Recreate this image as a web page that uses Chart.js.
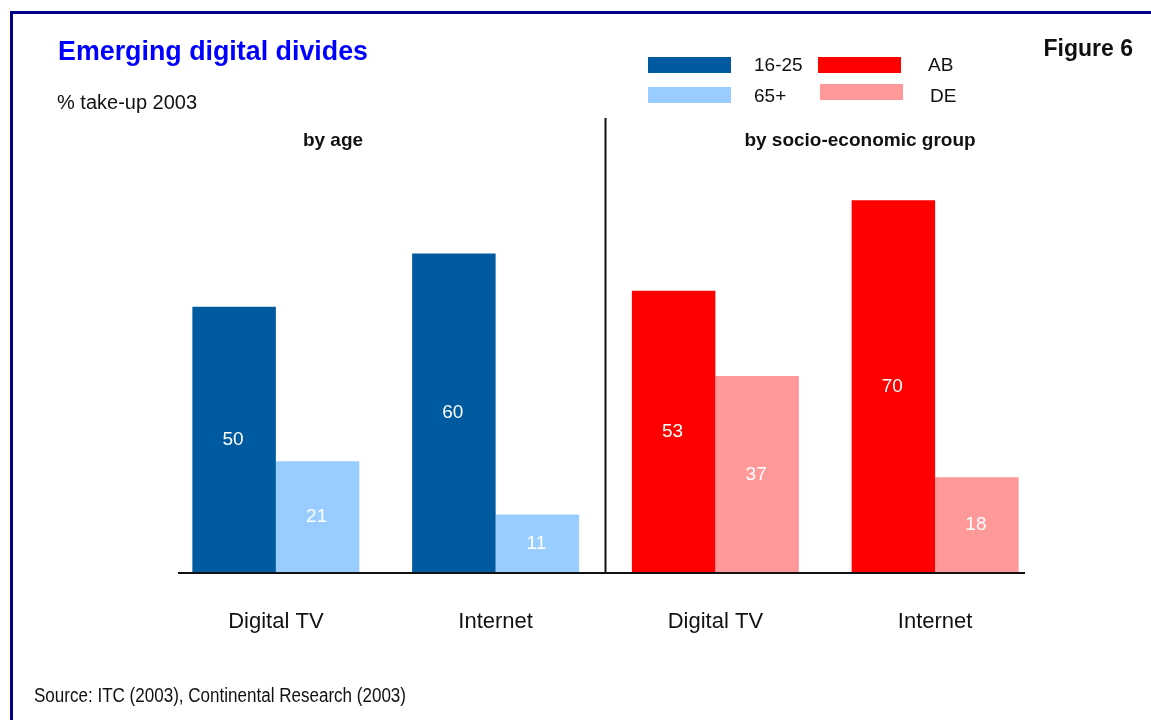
<!DOCTYPE html>
<html><head><meta charset="utf-8">
<script src="https://cdn.jsdelivr.net/npm/chart.js@4"></script>
<style>html,body{margin:0;padding:0;background:#fff;}#wrap{width:1151px;height:720px;position:relative;}</style>
</head><body><div id="wrap"><canvas id="c" width="1151" height="720"></canvas></div>
<script>
const categories = ["Digital TV", "Internet", "Digital TV", "Internet"];
const age1625 = [50, 60, null, null];
const age65plus = [21, 11, null, null];
const groupAB = [null, null, 53, 70];
const groupDE = [null, null, 37, 18];
const seriesNames = ["16-25", "65+", "AB", "DE"];
const panelTitles = ["by age", "by socio-economic group"];
const titleText = "Emerging digital divides";
const subtitleText = "% take-up 2003";
const figureText = "Figure 6";
const sourceText = "Source: ITC (2003), Continental Research (2003)";

const FONT = "'Liberation Sans', Arial, sans-serif";
const colors = ["#005a9f", "#99ccff", "#ff0000", "#ff9999"];

const decor = {
  id: 'decor',
  beforeDraw(chart) {
    const ctx = chart.ctx;
    ctx.save();
    ctx.fillStyle = '#fff';
    ctx.fillRect(0, 0, chart.width, chart.height);
    ctx.restore();
  },
  afterDraw(chart) {
    const ctx = chart.ctx;
    const x = chart.scales.x, y = chart.scales.y;
    ctx.save();
    // frame
    ctx.strokeStyle = '#00008b';
    ctx.lineWidth = 3;
    ctx.beginPath();
    ctx.moveTo(11.5, 725); ctx.lineTo(11.5, 12.5); ctx.lineTo(1160, 12.5);
    ctx.stroke();
    // title
    ctx.fillStyle = '#0000ff';
    ctx.font = "bold 27px " + FONT;
    ctx.textBaseline = 'middle';
    ctx.textAlign = 'left';
    ctx.fillText(titleText, 58, 53, 310);
    ctx.fillStyle = '#111';
    ctx.font = "20px " + FONT;
    ctx.fillText(subtitleText, 57, 103);
    ctx.font = "bold 23px " + FONT;
    ctx.textAlign = 'right';
    ctx.fillText(figureText, 1133, 50);
    ctx.textAlign = 'left';
    ctx.font = "20px " + FONT;
    ctx.fillText(sourceText, 34, 696, 372);
    // panel titles
    ctx.font = "bold 19px " + FONT;
    ctx.textAlign = 'center';
    ctx.fillText(panelTitles[0], 333, 141);
    ctx.fillText(panelTitles[1], 860, 141);
    // divider & baseline
    const base = y.getPixelForValue(0);
    const mid = (x.getPixelForValue(1) + x.getPixelForValue(2)) / 2;
    ctx.strokeStyle = '#111';
    ctx.lineWidth = 2;
    ctx.beginPath();
    ctx.moveTo(mid, 118); ctx.lineTo(mid, base);
    ctx.moveTo(178, base); ctx.lineTo(1025, base);
    ctx.stroke();
    // legend
    const pos = [[648, 57, 754, 66], [648, 87, 754, 97], [818, 57, 928, 66], [820, 84, 930, 97]];
    ctx.font = "19px " + FONT;
    ctx.textAlign = 'left';
    chart.data.datasets.forEach((ds, i) => {
      const p = pos[i];
      ctx.fillStyle = ds.backgroundColor;
      ctx.fillRect(p[0], p[1], 83, 16);
      ctx.fillStyle = '#111';
      ctx.fillText(ds.label, p[2], p[3]);
    });
    // value labels
    ctx.fillStyle = '#fff';
    ctx.font = "19px " + FONT;
    ctx.textAlign = 'center';
    chart.data.datasets.forEach((ds, i) => {
      const meta = chart.getDatasetMeta(i);
      meta.data.forEach((bar, j) => {
        const v = ds.data[j];
        if (v === null || v === undefined) return;
        ctx.fillText(String(v), bar.x - 1, (bar.y + bar.base) / 2);
      });
    });
    ctx.restore();
  }
};

new Chart(document.getElementById('c'), {
  type: 'bar',
  data: {
    labels: categories,
    datasets: [
      { label: seriesNames[0], data: age1625, backgroundColor: colors[0] },
      { label: seriesNames[1], data: age65plus, backgroundColor: colors[1] },
      { label: seriesNames[2], data: groupAB, backgroundColor: colors[2] },
      { label: seriesNames[3], data: groupDE, backgroundColor: colors[3] }
    ]
  },
  options: {
    responsive: false,
    animation: false,
    devicePixelRatio: 1,
    skipNull: true,
    datasets: { bar: { skipNull: true, categoryPercentage: 0.76, barPercentage: 1.0, borderWidth: 0 } },
    layout: { padding: { left: 166, right: 106, top: 147, bottom: 0 } },
    plugins: { legend: { display: false }, tooltip: { enabled: false }, title: { display: false } },
    scales: {
      x: {
        grid: { display: false }, border: { display: false },
        ticks: { color: '#111', font: { family: FONT, size: 22 }, padding: 28 },
        afterFit(s) { s.height = 147; }
      },
      y: { display: false, min: 0, max: 80 }
    }
  },
  plugins: [decor]
});
</script></body></html>
